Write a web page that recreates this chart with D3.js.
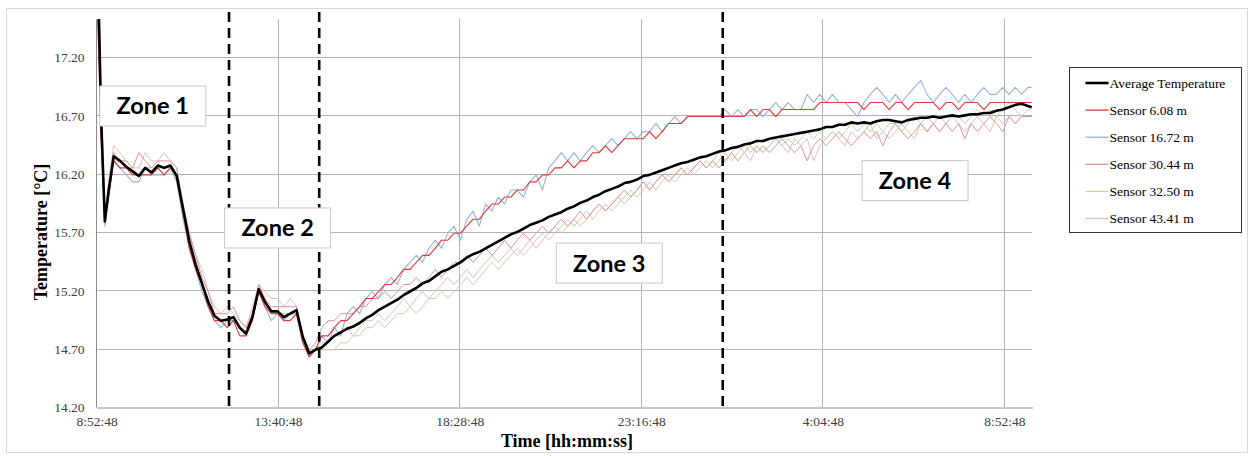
<!DOCTYPE html>
<html>
<head>
<meta charset="utf-8">
<script src="https://cdn.jsdelivr.net/npm/d3@7"></script>
<style>
  body { margin: 0; background: #fff; }
  svg { display: block; }
</style>
</head>
<body>
<svg id="chart" width="1255" height="456"></svg>
<script>
// Sampling clock: minutes after 8:52:48 (denser at the start of the run)
const sampleMinutes = [0, 4, 8, 14, 20, 28].concat(d3.range(38, 1479, 10), [1484]);

// Average of the sensor string [°C]
const avgTemp = [
  18.2,17.7,16.7,15.79,16.05,16.35,16.31,16.26,16.22,16.18,
  16.25,16.21,16.27,16.25,16.27,16.18,15.9,15.62,15.42,15.26,
  15.1,14.98,14.94,14.95,14.97,14.88,14.83,14.97,15.21,15.1,
  15.02,15.02,14.97,15.0,15.03,14.8,14.66,14.69,14.71,14.76,
  14.81,14.84,14.87,14.89,14.92,14.96,14.99,15.03,15.06,15.09,
  15.12,15.16,15.19,15.22,15.26,15.28,15.32,15.36,15.38,15.41,
  15.44,15.48,15.51,15.53,15.56,15.59,15.62,15.65,15.68,15.70,
  15.73,15.76,15.78,15.80,15.83,15.85,15.87,15.90,15.92,15.95,
  15.97,16.00,16.02,16.05,16.07,16.09,16.12,16.13,16.15,16.18,
  16.19,16.21,16.23,16.25,16.27,16.29,16.30,16.32,16.34,16.35,
  16.37,16.39,16.40,16.42,16.43,16.45,16.46,16.48,16.48,16.50,
  16.51,16.52,16.53,16.54,16.55,16.56,16.57,16.58,16.60,16.60,
  16.62,16.62,16.64,16.63,16.64,16.63,16.65,16.66,16.66,16.65,
  16.64,16.66,16.67,16.68,16.68,16.69,16.68,16.69,16.70,16.69,
  16.70,16.71,16.71,16.72,16.72,16.74,16.75,16.77,16.79,16.80,
  16.78,16.77
];

// Sensor 6.08 m
const sensor608 = [
  17.9,17.3,16.5,15.8,16.0,16.31,16.25,16.25,16.19,16.19,
  16.19,16.19,16.25,16.19,16.25,16.19,15.88,15.56,15.38,15.25,
  15.06,14.94,14.94,14.88,14.94,14.81,14.81,14.94,15.19,15.06,
  15.0,15.0,14.94,14.94,15.0,14.75,14.63,14.69,14.81,14.81,
  14.88,14.94,14.94,15.0,15.06,15.13,15.13,15.19,15.25,15.25,
  15.31,15.38,15.38,15.44,15.5,15.5,15.56,15.63,15.63,15.69,
  15.69,15.75,15.81,15.81,15.88,15.94,15.94,16.0,16.0,16.06,
  16.06,16.13,16.13,16.19,16.19,16.25,16.25,16.31,16.25,16.31,
  16.31,16.38,16.38,16.44,16.38,16.44,16.5,16.5,16.5,16.5,
  16.56,16.5,16.56,16.63,16.63,16.63,16.69,16.69,16.69,16.69,
  16.69,16.69,16.69,16.69,16.69,16.69,16.75,16.69,16.75,16.75,
  16.69,16.75,16.75,16.75,16.75,16.75,16.75,16.81,16.81,16.81,
  16.81,16.81,16.81,16.81,16.75,16.81,16.81,16.81,16.75,16.81,
  16.81,16.75,16.81,16.81,16.81,16.81,16.75,16.81,16.81,16.75,
  16.81,16.81,16.81,16.75,16.81,16.81,16.81,16.81,16.81,16.81,
  16.81,16.81
];

// Sensor 16.72 m
const sensor1672 = [
  18.1,17.6,16.6,15.75,16.06,16.31,16.25,16.19,16.13,16.13,
  16.25,16.19,16.19,16.19,16.25,16.13,15.81,15.56,15.38,15.19,
  15.06,14.94,14.88,14.94,14.94,14.88,14.81,15.0,15.19,15.06,
  14.94,15.0,14.94,15.0,15.0,14.75,14.63,14.69,14.81,14.75,
  14.88,14.81,15.0,15.06,15.0,15.13,15.19,15.13,15.25,15.31,
  15.25,15.38,15.44,15.5,15.44,15.56,15.63,15.56,15.69,15.75,
  15.63,15.81,15.88,15.75,15.94,15.88,16.0,15.94,16.06,16.06,
  16.0,16.13,16.19,16.06,16.25,16.31,16.38,16.31,16.38,16.31,
  16.38,16.44,16.38,16.44,16.5,16.44,16.5,16.56,16.5,16.56,
  16.56,16.63,16.56,16.63,16.69,16.63,16.69,16.69,16.69,16.69,
  16.69,16.69,16.75,16.69,16.75,16.69,16.75,16.75,16.69,16.75,
  16.81,16.75,16.81,16.75,16.75,16.88,16.81,16.88,16.81,16.88,
  16.81,16.81,16.75,16.69,16.81,16.88,16.94,16.88,16.81,16.88,
  16.81,16.88,16.94,17.0,16.88,16.81,16.88,16.94,16.88,16.81,
  16.88,16.81,16.88,16.94,16.88,16.88,16.94,16.88,16.94,16.88,
  16.94,16.94
];

// Sensor 30.44 m
const sensor3044 = [
  18.3,17.9,16.8,15.81,16.06,16.38,16.31,16.31,16.25,16.38,
  16.31,16.25,16.31,16.31,16.31,16.25,15.94,15.69,15.5,15.31,
  15.19,15.0,15.0,15.0,15.06,14.94,14.88,15.0,15.25,15.13,
  15.06,15.06,15.06,15.06,15.06,14.81,14.69,14.75,14.88,14.94,
  14.94,15.0,15.0,15.0,15.06,15.06,15.13,15.13,15.19,15.13,
  15.19,15.25,15.25,15.31,15.25,15.31,15.38,15.31,15.38,15.44,
  15.44,15.5,15.44,15.5,15.56,15.5,15.56,15.63,15.56,15.63,
  15.69,15.63,15.69,15.75,15.69,15.75,15.81,15.75,15.81,15.88,
  15.81,15.88,15.94,15.88,15.94,16.0,16.06,16.0,16.06,16.13,
  16.06,16.13,16.19,16.13,16.19,16.25,16.19,16.25,16.31,16.25,
  16.31,16.25,16.31,16.38,16.31,16.38,16.44,16.38,16.44,16.38,
  16.44,16.5,16.44,16.38,16.44,16.31,16.44,16.5,16.44,16.5,
  16.56,16.5,16.44,16.5,16.56,16.5,16.56,16.44,16.56,16.63,
  16.56,16.5,16.56,16.63,16.56,16.63,16.56,16.63,16.56,16.63,
  16.5,16.63,16.56,16.63,16.69,16.63,16.56,16.69,16.63,16.69,
  16.69,16.69
];

// Sensor 32.50 m
const sensor3250 = [
  18.0,17.5,16.6,15.78,16.0,16.31,16.31,16.25,16.25,16.19,
  16.25,16.25,16.25,16.25,16.25,16.19,15.88,15.63,15.44,15.25,
  15.13,15.0,14.94,14.94,14.94,14.88,14.81,14.94,15.19,15.13,
  15.0,15.0,15.0,15.0,15.0,14.81,14.63,14.69,14.69,14.69,
  14.69,14.75,14.75,14.81,14.81,14.88,14.88,14.94,14.88,14.94,
  15.0,15.0,15.06,15.0,15.06,15.13,15.13,15.19,15.13,15.19,
  15.25,15.31,15.25,15.31,15.38,15.44,15.38,15.44,15.5,15.56,
  15.5,15.56,15.63,15.69,15.63,15.69,15.75,15.81,15.75,15.81,
  15.88,15.81,15.88,15.94,15.88,15.94,16.0,16.06,16.0,16.06,
  16.13,16.06,16.13,16.19,16.13,16.19,16.25,16.19,16.25,16.31,
  16.25,16.31,16.38,16.31,16.38,16.44,16.38,16.44,16.38,16.44,
  16.5,16.44,16.5,16.44,16.5,16.56,16.5,16.56,16.5,16.56,
  16.5,16.56,16.63,16.56,16.63,16.56,16.63,16.56,16.63,16.63,
  16.56,16.63,16.69,16.63,16.69,16.63,16.69,16.63,16.69,16.69,
  16.63,16.69,16.75,16.69,16.75,16.69,16.75,16.81,16.75,16.69,
  16.75,16.75
];

// Sensor 43.41 m
const sensor4341 = [
  18.3,17.8,16.9,15.85,16.13,16.44,16.38,16.31,16.25,16.25,
  16.38,16.31,16.31,16.38,16.31,16.25,15.94,15.69,15.5,15.38,
  15.19,15.06,15.0,15.06,15.0,14.94,14.88,15.06,15.25,15.19,
  15.13,15.13,15.06,15.13,15.06,14.81,14.69,14.69,14.75,14.75,
  14.81,14.81,14.88,14.81,14.88,14.94,14.94,15.0,14.94,15.0,
  15.06,15.13,15.06,15.13,15.19,15.13,15.19,15.25,15.31,15.25,
  15.31,15.38,15.31,15.38,15.44,15.5,15.44,15.5,15.56,15.5,
  15.56,15.63,15.56,15.63,15.69,15.75,15.69,15.75,15.81,15.75,
  15.81,15.88,15.94,15.88,15.94,16.0,15.94,16.0,16.06,16.13,
  16.06,16.13,16.19,16.13,16.19,16.25,16.19,16.25,16.31,16.25,
  16.31,16.38,16.31,16.38,16.44,16.38,16.31,16.44,16.38,16.44,
  16.5,16.44,16.38,16.5,16.44,16.5,16.31,16.44,16.5,16.56,
  16.5,16.44,16.56,16.5,16.56,16.63,16.5,16.56,16.5,16.56,
  16.63,16.56,16.5,16.63,16.56,16.63,16.56,16.63,16.69,16.63,
  16.56,16.63,16.69,16.63,16.56,16.69,16.63,16.69,16.63,16.69,
  16.69,16.69
];

// Axis ticks
const xTickMinutes = [0, 288, 576, 864, 1152, 1440];
const xTickLabels = ["8:52:48", "13:40:48", "18:28:48", "23:16:48", "4:04:48", "8:52:48"];
const yTickValues = [14.2, 14.7, 15.2, 15.7, 16.2, 16.7, 17.2];

// Zone boundaries (minutes after start) and zone captions
const zoneBoundaryMinutes = [211, 354, 994];
const zoneNames = ["Zone 1", "Zone 2", "Zone 3", "Zone 4"];
const zoneCaptionAt = [[90, 16.78], [288, 15.735], [814, 15.434], [1299, 16.141]]; // [minutes, °C]

const seriesNames = ["Average Temperature", "Sensor 6.08 m", "Sensor 16.72 m", "Sensor 30.44 m", "Sensor 32.50 m", "Sensor 43.41 m"];
const seriesValues = [avgTemp, sensor608, sensor1672, sensor3044, sensor3250, sensor4341];
const seriesColors = ["#000000", "#e0393a", "#95b3d7", "#d99694", "#c4d3a4", "#e3bcb8"];
const seriesWidths = [2.6, 1.1, 1.1, 1.0, 1.0, 1.0];

const svg = d3.select("#chart");
const W = 1255, H = 456;
const plot = { left: 96, right: 1032, top: 19, bottom: 407 };
const serif = "'Liberation Serif', 'Times New Roman', serif";

svg.append("rect").attr("width", W).attr("height", H).attr("fill", "#fff");
svg.append("rect")
  .attr("x", 6.5).attr("y", 8.5).attr("width", 1241).attr("height", 444)
  .attr("fill", "none").attr("stroke", "#d9d9d9");

const x = d3.scaleLinear().domain([0, 1484.5]).range([plot.left, plot.right]);
const y = d3.scaleLinear().domain([14.2, 17.526]).range([plot.bottom, plot.top]);

// Gridlines
const grid = svg.append("g").attr("stroke", "#b3b3b3").attr("stroke-width", 1);
grid.selectAll(".hg").data(yTickValues.slice(1)).join("line")
  .attr("x1", plot.left).attr("x2", plot.right)
  .attr("y1", d => Math.round(y(d)) + 0.5).attr("y2", d => Math.round(y(d)) + 0.5);
grid.selectAll(".vg").data(xTickMinutes.slice(1)).join("line")
  .attr("x1", d => Math.round(x(d)) + 0.5).attr("x2", d => Math.round(x(d)) + 0.5)
  .attr("y1", plot.top).attr("y2", plot.bottom);

// Axes
const yAxis = svg.append("g")
  .attr("transform", `translate(${plot.left + 0.5},0.5)`)
  .call(d3.axisLeft(y).tickValues(yTickValues).tickFormat(d3.format(".2f")).tickSize(0).tickSizeOuter(0).tickPadding(12));
yAxis.select(".domain").attr("stroke", "#8c8c8c").attr("d", `M0,${plot.top}V${plot.bottom}`);
yAxis.selectAll("text").attr("font-family", serif).attr("font-size", 13.5).attr("fill", "#404040");

const xAxis = svg.append("g")
  .attr("transform", `translate(0.5,${plot.bottom + 0.5})`)
  .call(d3.axisBottom(x).tickValues(xTickMinutes).tickFormat((d, i) => xTickLabels[i]).tickSize(0).tickSizeOuter(0).tickPadding(9));
xAxis.select(".domain").attr("stroke", "#8c8c8c");
xAxis.selectAll("text").attr("font-family", serif).attr("font-size", 13.5).attr("fill", "#404040");

// Axis titles
svg.append("text")
  .attr("x", 567).attr("y", 447).attr("text-anchor", "middle")
  .attr("font-family", serif).attr("font-weight", "bold").attr("font-size", 18)
  .text("Time [hh:mm:ss]");
svg.append("text")
  .attr("transform", "translate(47,232) rotate(-90)").attr("text-anchor", "middle")
  .attr("font-family", serif).attr("font-weight", "bold").attr("font-size", 18)
  .text("Temperature [°C]");

// Series lines, clipped to the plot area
svg.append("clipPath").attr("id", "plotClip").append("rect")
  .attr("x", plot.left).attr("y", plot.top)
  .attr("width", plot.right - plot.left).attr("height", plot.bottom - plot.top);

const line = d3.line().x((d, i) => x(sampleMinutes[i])).y(d => y(d));
const drawOrder = [5, 4, 3, 2, 1, 0];
svg.append("g").attr("clip-path", "url(#plotClip)")
  .selectAll("path").data(drawOrder).join("path")
  .attr("d", k => line(seriesValues[k]))
  .attr("fill", "none")
  .attr("stroke", k => seriesColors[k])
  .attr("stroke-width", k => seriesWidths[k])
  .attr("stroke-linejoin", "round");

// Zone boundaries
svg.append("g").selectAll("line").data(zoneBoundaryMinutes).join("line")
  .attr("x1", d => x(d)).attr("x2", d => x(d))
  .attr("y1", 12).attr("y2", plot.bottom + 2)
  .attr("stroke", "#000").attr("stroke-width", 2.6).attr("stroke-dasharray", "10,6");

// Zone captions
const caps = svg.append("g").selectAll("g").data(zoneNames).join("g")
  .attr("transform", (d, i) => `translate(${x(zoneCaptionAt[i][0])},${y(zoneCaptionAt[i][1])})`);
caps.append("rect")
  .attr("x", -53).attr("y", -20).attr("width", 106).attr("height", 40)
  .attr("fill", "#fff").attr("stroke", "#c8c8c8");
caps.append("text")
  .attr("text-anchor", "middle").attr("dy", "0.36em")
  .attr("font-family", "Lato, 'Open Sans', sans-serif").attr("font-weight", "bold").attr("font-size", 23.5)
  .attr("fill", "#000").text(d => d);

// Legend
const legend = svg.append("g").attr("transform", "translate(1069.5,67.5)");
legend.append("rect").attr("width", 172).attr("height", 165)
  .attr("fill", "#fff").attr("stroke", "#333");
const items = legend.selectAll("g").data(seriesNames).join("g")
  .attr("transform", (d, i) => `translate(0,${15.5 + i * 27.1})`);
items.append("line").attr("x1", 16).attr("x2", 39)
  .attr("stroke", (d, i) => seriesColors[i])
  .attr("stroke-width", (d, i) => i === 0 ? 2.6 : 1.3);
items.append("text").attr("x", 40).attr("dy", "0.35em")
  .attr("font-family", serif).attr("font-size", 13.5).attr("fill", "#000")
  .text(d => d);
</script>
</body>
</html>
